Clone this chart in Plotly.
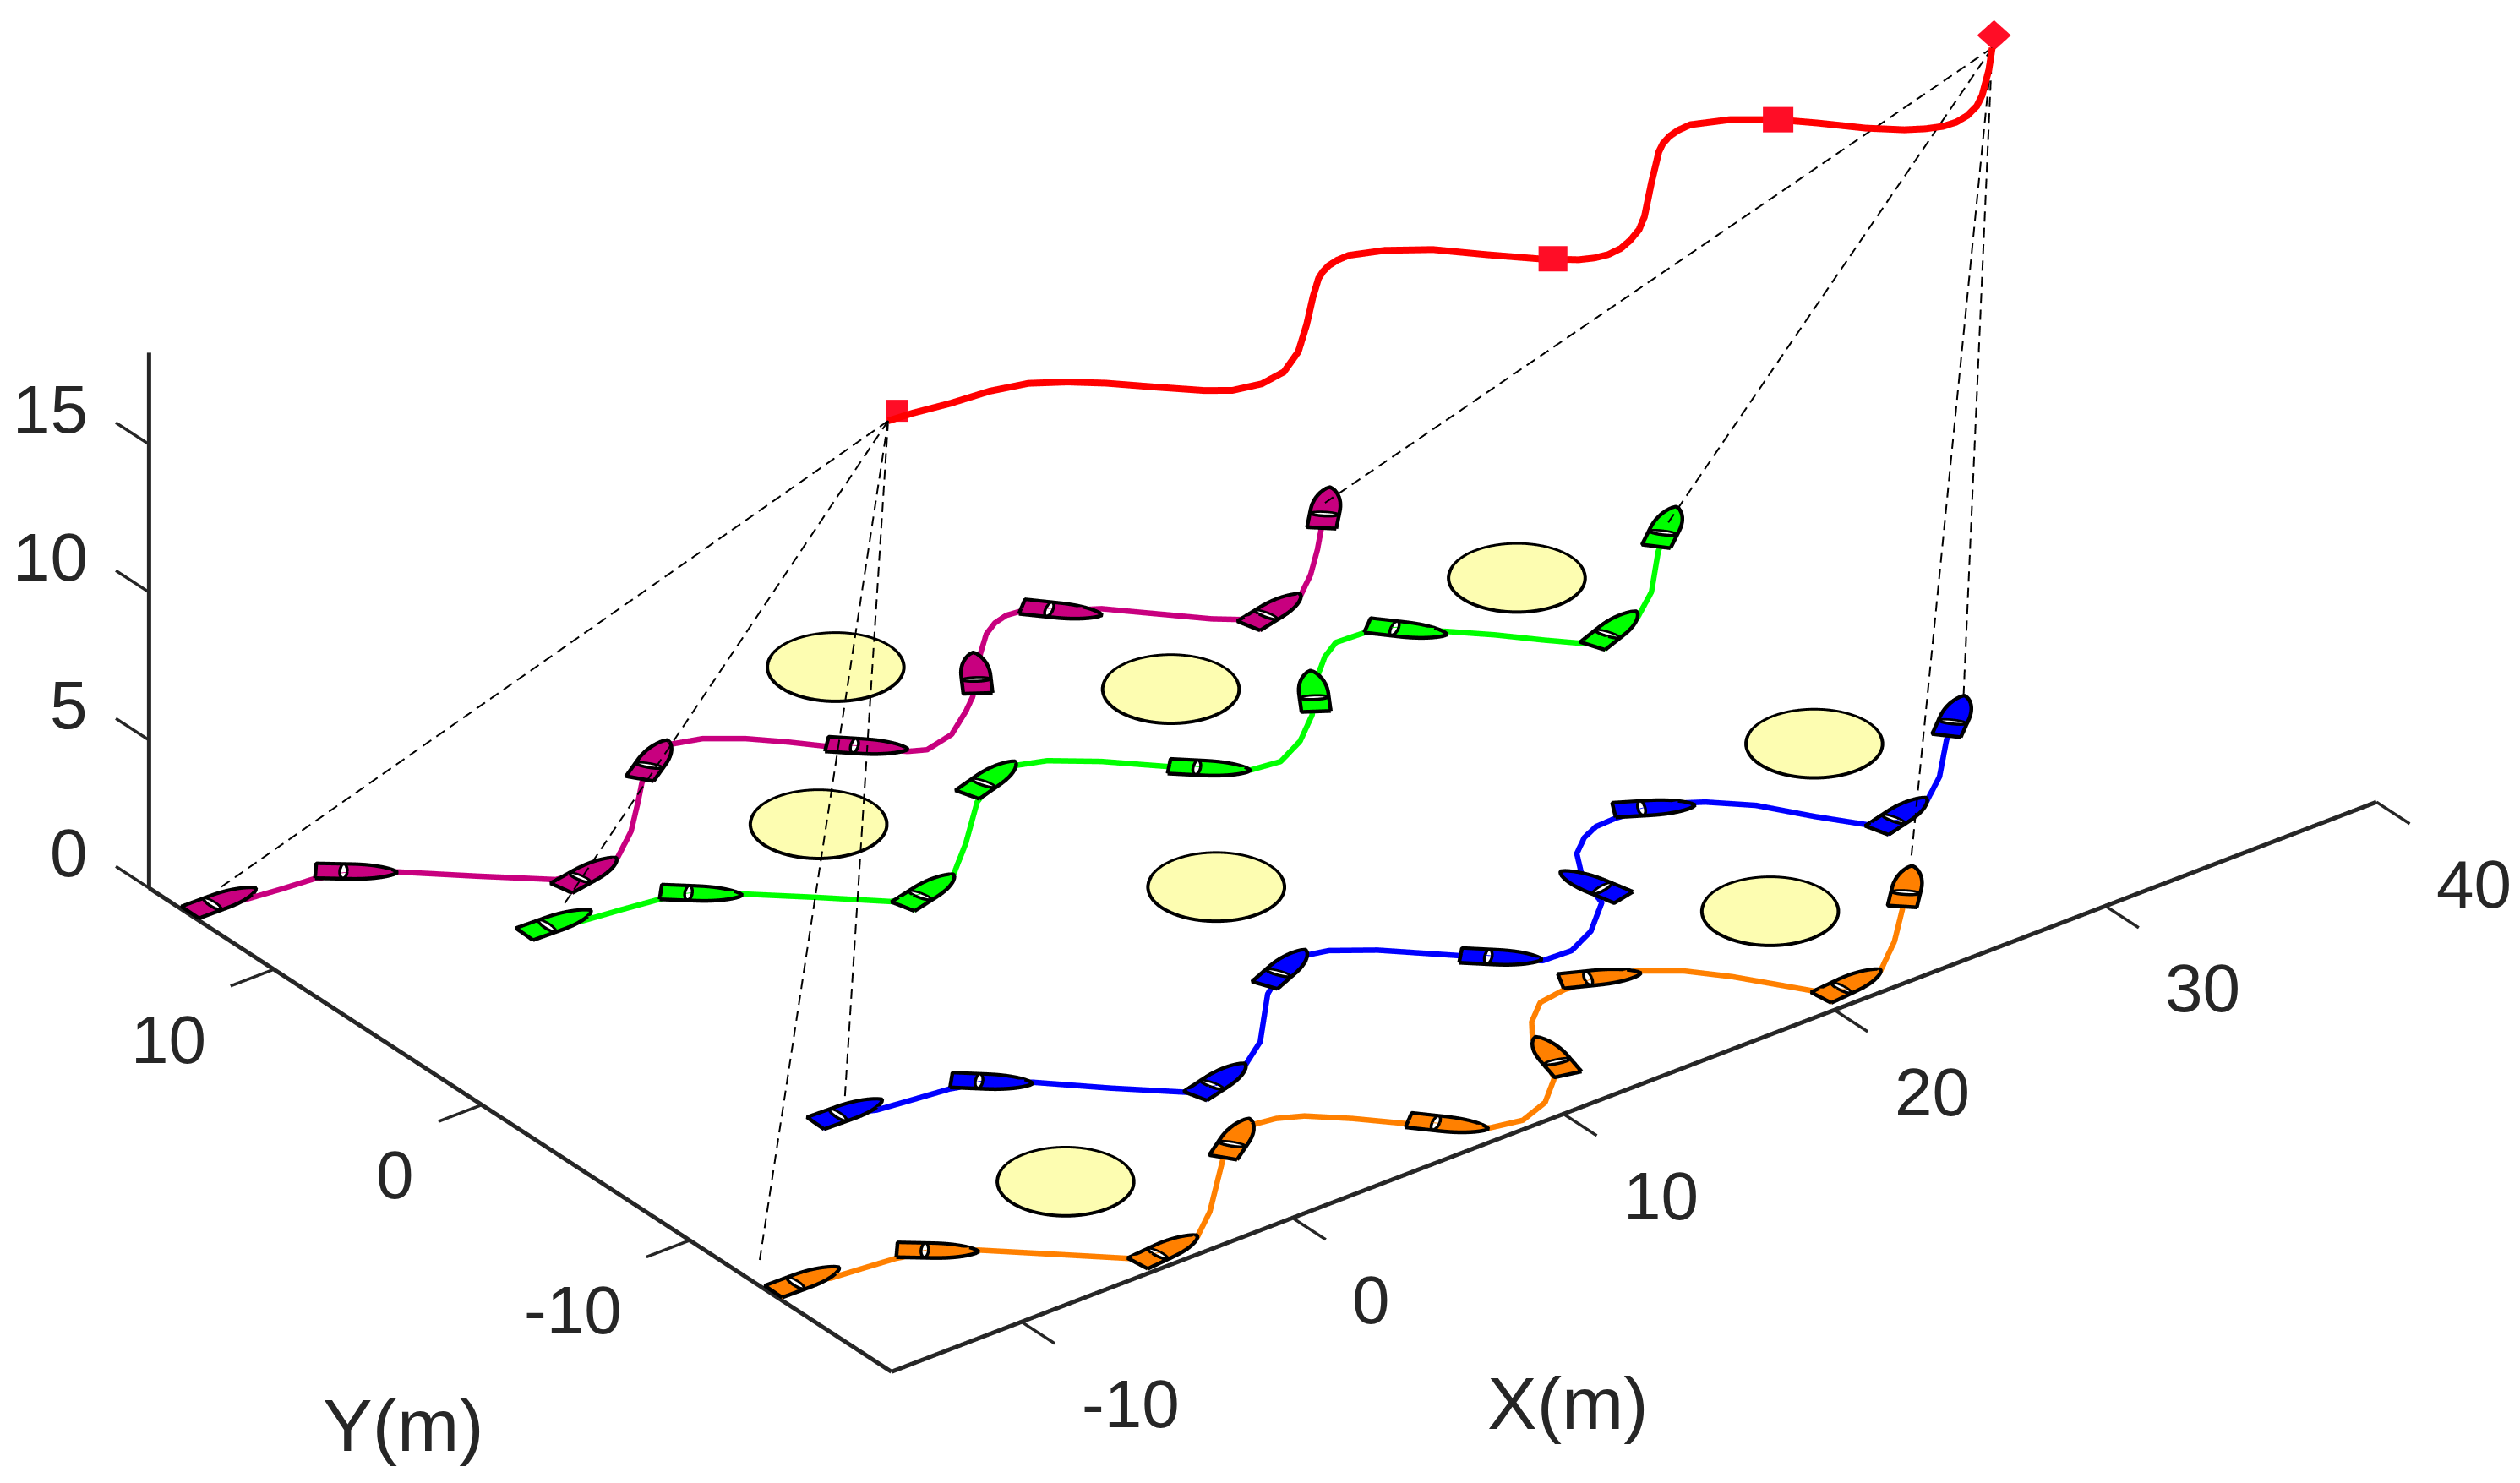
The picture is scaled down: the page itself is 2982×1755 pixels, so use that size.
import numpy as np
import plotly.graph_objects as go

# ---- data (world coordinates, metres) ----
X_TICKS = [-10, 0, 10, 20, 30, 40]
Y_TICKS = [-10, 0, 10]
Z_TICKS = [0, 5, 10, 15]

leader_x = [0.04,0.88,2.13,3.45,4.64,5.59,6.45,7.45,8.45,9.12,10.04,10.98,12.03,13.19,14.33,15.12,15.45,15.81,16.20,16.63,17.65,18.80,19.86,20.94,21.82,22.25,22.69,23.20,23.71,24.30,24.89,26.25,27.54,27.90,28.32,28.75,29.23,30.31,31.45,32.24,33.18,34.02,34.55,35.04,35.50,36.00,36.55,37.06,38.12,38.98]
leader_y = [-0.20,-0.28,-0.50,-0.63,-0.96,-1.59,-2.34,-3.39,-4.41,-4.92,-5.14,-4.98,-4.30,-3.19,-2.01,-1.25,-1.02,-0.84,-0.74,-0.72,-1.13,-1.95,-3.14,-4.28,-5.02,-5.22,-5.31,-5.25,-5.04,-4.70,-4.19,-2.75,-1.43,-1.14,-0.91,-0.78,-0.74,-1.20,-2.07,-2.92,-4.02,-4.79,-5.12,-5.32,-5.36,-5.25,-4.98,-4.57,-3.51,-2.55]
leader_z = 18.0
mark_x = [0.61, 21.26, 31.45, 39.47]
mark_y = [0.11, -4.52, -2.07, -2.00]

magenta_x = [-13.74,-12.84,-11.76,-10.66,-9.55,-8.47,-6.79,-5.09,-4.09,-2.95,-1.62,-0.44,0.38,1.46,2.36,3.34,4.34,5.22,5.94,6.89,7.66,8.17,9.28,10.46,11.13,11.93,12.84,13.67,14.26,14.79,15.27,16.34,17.25,18.33,19.44,20.20,21.16,22.32,23.31,24.37,25.11,26.05]
magenta_y = [13.82,13.69,13.55,13.45,12.97,12.27,10.67,9.11,8.90,8.96,10.00,11.21,12.08,12.87,13.36,13.04,12.28,11.35,10.49,9.57,8.79,8.52,8.79,9.63,10.18,11.06,12.04,12.84,13.20,13.35,13.29,12.53,11.96,10.76,9.53,8.89,8.64,9.01,9.81,10.86,11.66,12.68]
green_x = [-6.63,-5.94,-4.66,-3.35,-2.22,-1.24,0.31,1.91,2.92,4.22,5.73,7.47,8.56,9.62,10.57,11.80,13.17,13.99,14.97,15.96,17.14,18.35,19.19,19.93,20.72,21.49,22.53,23.54,24.47,25.45,26.39,27.17,28.12,29.32,30.62,32.22,33.23]
green_y = [6.99,6.71,6.54,6.34,5.85,5.09,3.66,2.12,1.77,2.15,3.48,5.20,5.86,6.23,5.87,4.87,3.44,2.56,1.81,1.67,2.27,3.27,4.24,5.04,5.75,6.22,6.16,5.64,4.74,3.74,2.64,1.79,1.44,1.95,2.94,4.70,5.61]
blue_x = [-6.61,-5.84,-4.66,-3.40,-2.26,-1.22,0.38,2.00,2.97,4.22,5.50,7.37,8.47,9.60,10.34,11.49,13.20,14.12,14.95,15.98,17.12,18.40,18.65,18.92,19.56,20.31,20.97,21.73,22.82,23.84,24.38,25.44,26.40,27.43,28.26,29.51,30.72,32.21,33.21]
blue_y = [-6.98,-7.32,-7.48,-7.64,-8.02,-8.82,-10.48,-12.03,-12.40,-11.87,-10.98,-8.90,-8.09,-7.77,-7.97,-8.82,-10.54,-11.50,-12.25,-12.30,-11.74,-10.60,-9.67,-8.95,-7.88,-7.27,-6.97,-6.93,-7.08,-7.43,-7.78,-8.84,-10.39,-11.86,-12.20,-11.72,-10.78,-9.18,-8.32]
orange_x = [-13.59,-12.90,-11.86,-10.71,-9.56,-8.46,-6.80,-5.19,-4.15,-2.91,-1.72,0.42,1.51,2.30,3.13,3.88,4.90,5.97,6.85,7.77,8.80,9.95,11.04,11.54,11.94,12.51,13.40,14.43,15.53,16.73,17.85,18.78,20.17,21.03,22.39,23.81,25.10,26.03]
orange_y = [-14.03,-14.31,-14.42,-14.55,-14.88,-15.65,-17.24,-18.79,-19.22,-18.92,-17.97,-15.80,-14.90,-14.69,-14.83,-15.22,-16.19,-17.39,-18.24,-19.08,-19.31,-18.88,-17.91,-16.68,-15.68,-14.90,-14.15,-13.98,-14.13,-14.37,-15.23,-16.37,-18.50,-19.17,-18.78,-17.62,-16.31,-15.34]

magenta_ship_x = [-13.62,-9.50,-4.15,1.40,6.82,11.96,16.18,21.15,25.99]
magenta_ship_y = [13.98,12.93,8.73,12.85,9.63,11.13,12.47,8.73,12.57]
magenta_ship_h = [-1,-39.7,10.4,32.8,-44.7,55.9,-49.5,13.6,46.7]
green_ship_x = [-6.63,-2.27,3.11,8.58,14.00,19.16,23.52,28.38,33.22]
green_ship_y = [6.99,5.76,1.87,5.97,2.52,4.27,5.43,1.80,5.62]
green_ship_h = [-2,-42,14.4,16.9,-43.4,56.5,-50.4,20.3,38.4]
blue_ship_x = [-6.61,-2.23,3.14,8.65,14.03,18.74,22.93,28.44,33.20]
blue_ship_y = [-6.98,-8.16,-12.13,-8.07,-11.46,-9.68,-7.23,-11.93,-8.32]
blue_ship_h = [-2,-42.3,15.1,22.6,-43.2,102.9,-30.6,15.4,39.7]
orange_ship_x = [-13.59,-9.51,-4.13,1.44,6.85,11.70,15.64,21.22,26.00]
orange_ship_y = [-14.03,-15.04,-19.07,-15.12,-18.28,-16.92,-14.15,-18.90,-15.38]
orange_ship_h = [-1,-39.9,5.8,33.9,-49.9,76,-26,6,45.5]

obstacle_x = [9, 16, 28, 3, 10, -4, 29, 22]
obstacle_y = [14, 7, 6, 7, -3, -14, -7, -14]
OBSTACLE_R = 2.0

link_start_x = [-13.48,-6.10,-6.44,-14.27]
link_start_y = [14.49,7.51,-6.55,-12.63]
link_end_x = [25.84,33.10,33.80,26.90]
link_end_y = [12.66,5.53,-7.91,-14.38]

# ---- style ----
INK = "#262626"
FONT = "Liberation Sans"
MAGENTA, GREEN, BLUE, ORANGE = "#C8007F", "#00FF00", "#0000FF", "#FF8000"
RED, RED_MARK, YELLOW = "#FF0000", "#FF0D26", "#FDFDB1"
SHIP_L = 2.4
SHIP_HW = 0.43

# visible box of the axes, and a wider scene box so nothing is clipped
XB, YB, ZB = (-14.8, 40.0), (-19.7, 16.0), (0.0, 18.1)
XR, YR, ZR = [-17, 41], [-22, 18], [-0.5, 19.5]
K = 21.71
DIST = 1.43
PX = 40.35                     # target pixels per metre
ORIGIN = (1045.0, 1124.5)      # target screen position of (0,0,0)
SCREEN_C = (1498.5, 885.0)

az, el = np.radians(-37.5), np.radians(30)
VIEW = np.array([np.cos(el) * np.sin(az), -np.cos(el) * np.cos(az), np.sin(el)])
RIGHT = np.cross([0, 0, 1], VIEW); RIGHT /= np.linalg.norm(RIGHT)
UP = np.cross(VIEW, RIGHT)

unlit = dict(ambient=1, diffuse=0, specular=0, roughness=1, fresnel=0)


def screen(p):
    p = np.asarray(p, float)
    return ORIGIN[0] + PX * p @ RIGHT, ORIGIN[1] - PX * p @ UP


def fan_mesh(polys, color):
    xs, ys, zs, ii, jj, kk = [], [], [], [], [], []
    n = 0
    for px, py, pz in polys:
        xs += [float(np.mean(px))] + list(px)
        ys += [float(np.mean(py))] + list(py)
        zs += [float(np.mean(pz))] + list(pz)
        m = len(px)
        for a in range(m):
            ii.append(n); jj.append(n + 1 + a); kk.append(n + 1 + (a + 1) % m)
        n += m + 1
    return go.Mesh3d(x=xs, y=ys, z=zs, i=ii, j=jj, k=kk, color=color,
                     flatshading=True, lighting=unlit, hoverinfo="skip", showscale=False)


def flat(polys, z):
    return [(px, py, [z] * len(px)) for px, py in polys]


def lines(segs, color, width):
    xs, ys, zs = [], [], []
    for s in segs:
        for p in s:
            xs.append(p[0]); ys.append(p[1]); zs.append(p[2])
        xs.append(None); ys.append(None); zs.append(None)
    return go.Scatter3d(x=xs, y=ys, z=zs, mode="lines", connectgaps=False,
                        line=dict(color=color, width=width), hoverinfo="skip", showlegend=False)


def outline(polys, z, color="#000000", width=9):
    segs = [[(x, y, z) for x, y in zip(list(px) + [px[0]], list(py) + [py[0]])] for px, py in polys]
    return lines(segs, color, width)


def place(u, v, cx, cy, h):
    a = np.radians(h)
    return (cx + u * np.cos(a) - v * np.sin(a)).tolist(), (cy + u * np.sin(a) + v * np.cos(a)).tolist()


def ship_polys(sx, sy, sh):
    t = np.linspace(0, 1, 16)
    bow_u = 0.42 + 0.58 * t
    bow_v = SHIP_HW * (1 - t ** 2.2) ** 0.72
    u = np.r_[0, bow_u, bow_u[::-1][1:], 0] * SHIP_L - SHIP_L / 2
    v = np.r_[-SHIP_HW, -bow_v, bow_v[::-1][1:], SHIP_HW]
    a = np.linspace(0, 2 * np.pi, 20, endpoint=False)
    lu = 0.34 * SHIP_L - SHIP_L / 2 + 0.11 * np.cos(a)
    lv = 0.40 * np.sin(a)
    hulls = [place(u, v, x, y, h) for x, y, h in zip(sx, sy, sh)]
    lenses = [place(lu, lv, x, y, h) for x, y, h in zip(sx, sy, sh)]
    return hulls, lenses


fig = go.Figure()

# obstacles
a = np.linspace(0, 2 * np.pi, 72, endpoint=False)
discs = [((cx + OBSTACLE_R * np.cos(a)).tolist(), (cy + OBSTACLE_R * np.sin(a)).tolist())
         for cx, cy in zip(obstacle_x, obstacle_y)]
fig.add_trace(fan_mesh(flat(discs, 0.0), YELLOW))
fig.add_trace(outline(discs, 0.02, width=8))

# vessel paths
for px, py, c in [(magenta_x, magenta_y, MAGENTA), (green_x, green_y, GREEN),
                  (blue_x, blue_y, BLUE), (orange_x, orange_y, ORANGE)]:
    fig.add_trace(lines([[(x, y, 0.03) for x, y in zip(px, py)]], c, 13))

# vessels
for sx, sy, sh, c in [(magenta_ship_x, magenta_ship_y, magenta_ship_h, MAGENTA),
                      (green_ship_x, green_ship_y, green_ship_h, GREEN),
                      (blue_ship_x, blue_ship_y, blue_ship_h, BLUE),
                      (orange_ship_x, orange_ship_y, orange_ship_h, ORANGE)]:
    hulls, lenses = ship_polys(sx, sy, sh)
    fig.add_trace(fan_mesh(flat(hulls, 0.06), c))
    fig.add_trace(fan_mesh(flat(lenses, 0.08), "#FFFFFF"))
    fig.add_trace(outline(hulls, 0.10))
    fig.add_trace(outline(lenses, 0.10, width=7))

# dashed links leader -> vessels, cut into dashes
dash_segs = []
pairs = [((leader_x[0], leader_y[0]), e) for e in zip(link_start_x, link_start_y)] + \
        [((leader_x[-1], leader_y[-1]), e) for e in zip(link_end_x, link_end_y)]
for (x0, y0), (x1, y1) in pairs:
    A, B = np.array([x0, y0, leader_z]), np.array([x1, y1, 0.15])
    sa, sb = np.array(screen(A)), np.array(screen(B))
    n = max(2, int(np.hypot(*(sb - sa)) / 19))
    for i in range(n):
        dash_segs.append([tuple(A + (B - A) * (i / n)), tuple(A + (B - A) * ((i + 0.62) / n))])
fig.add_trace(lines(dash_segs, "#000000", 4))

# leader path and markers (polygons facing the viewer)
fig.add_trace(lines([[(x, y, leader_z) for x, y in zip(leader_x, leader_y)]], RED, 16))
MARK_SHAPE = [(13, 13), (17, 15), (18, 15), (20, 18)]  # half-width, half-height in pixels
marks = []
for i, (mx, my) in enumerate(zip(mark_x, mark_y)):
    hw, hh = MARK_SHAPE[i]
    if i < 3:
        corners = [(-hw, -hh), (hw, -hh), (hw, hh), (-hw, hh)]
    else:
        corners = [(-hw, 0), (0, -hh), (hw, 0), (0, hh)]
    pts = [np.array([mx, my, leader_z]) + VIEW * 0.2 + RIGHT * (cx / PX) + UP * (cy / PX) for cx, cy in corners]
    marks.append(([p[0] for p in pts], [p[1] for p in pts], [p[2] for p in pts]))
fig.add_trace(fan_mesh(marks, RED_MARK))

# axes: lines and outward ticks at the box edges
TICK_LEN = 1.6
ax_segs = [[(XB[0], YB[0], 0), (XB[1], YB[0], 0)],
           [(XB[0], YB[0], 0), (XB[0], YB[1], 0)],
           [(XB[0], YB[1], 0), (XB[0], YB[1], ZB[1])]]
tick_segs = [[(t, YB[0], 0), (t, YB[0] - TICK_LEN, 0)] for t in X_TICKS] + \
            [[(XB[0], t, 0), (XB[0] - TICK_LEN, t, 0)] for t in Y_TICKS] + \
            [[(XB[0], YB[1], t), (XB[0], YB[1] + TICK_LEN, t)] for t in Z_TICKS]
fig.add_trace(lines(ax_segs, INK, 10))
fig.add_trace(lines(tick_segs, INK, 7))

# tick labels
notes = []
lab = dict(family=FONT, size=80, color=INK)
for t in X_TICKS:
    notes.append(dict(x=t, y=YB[0], z=0, text=str(t), showarrow=False, font=lab,
                      xanchor="left", yanchor="middle", xshift=69, yshift=-97))
for t in Y_TICKS:
    notes.append(dict(x=XB[0], y=t, z=0, text=str(t), showarrow=False, font=lab,
                      xanchor="right", yanchor="middle", xshift=-78, yshift=-83))
for t in Z_TICKS:
    notes.append(dict(x=XB[0], y=YB[1], z=t, text=str(t), showarrow=False, font=lab,
                      xanchor="right", yanchor="middle", xshift=-70, yshift=41))

# camera: put the wanted world point in the middle of the page
box_c = np.array([sum(XR), sum(YR), sum(ZR)]) / 2
sc = screen(box_c)
look = box_c + RIGHT * (SCREEN_C[0] - sc[0]) / PX + UP * (sc[1] - SCREEN_C[1]) / PX
cen = (look - box_c) / K
eye = cen + VIEW * DIST


def axis(rng, ticks):
    return dict(range=rng, tickvals=ticks, tickmode="array", showgrid=False, zeroline=False,
                showbackground=False, showspikes=False, showline=False, ticks="",
                showticklabels=False, title=dict(text=""))


title_font = dict(family=FONT, size=88, color=INK)
fig.update_layout(
    width=2982, height=1755, autosize=False, margin=dict(l=0, r=0, t=0, b=0),
    paper_bgcolor="white", showlegend=False, hovermode=False,
    annotations=[
        dict(text="X(m)", x=1847 / 2982, y=1 - 1652 / 1755, xref="paper", yref="paper",
             showarrow=False, font=title_font, xanchor="center", yanchor="middle"),
        dict(text="Y(m)", x=469 / 2982, y=1 - 1678 / 1755, xref="paper", yref="paper",
             showarrow=False, font=title_font, xanchor="center", yanchor="middle"),
    ],
    scene=dict(
        domain=dict(x=[0, 1], y=[0, 1]),
        xaxis=axis(XR, X_TICKS), yaxis=axis(YR, Y_TICKS), zaxis=axis(ZR, Z_TICKS),
        annotations=notes,
        aspectmode="manual",
        aspectratio=dict(x=(XR[1] - XR[0]) / K, y=(YR[1] - YR[0]) / K, z=(ZR[1] - ZR[0]) / K),
        camera=dict(projection=dict(type="orthographic"), up=dict(x=0, y=0, z=1),
                    center=dict(x=cen[0], y=cen[1], z=cen[2]),
                    eye=dict(x=eye[0], y=eye[1], z=eye[2])),
    ),
)
fig.write_html("out.html")
